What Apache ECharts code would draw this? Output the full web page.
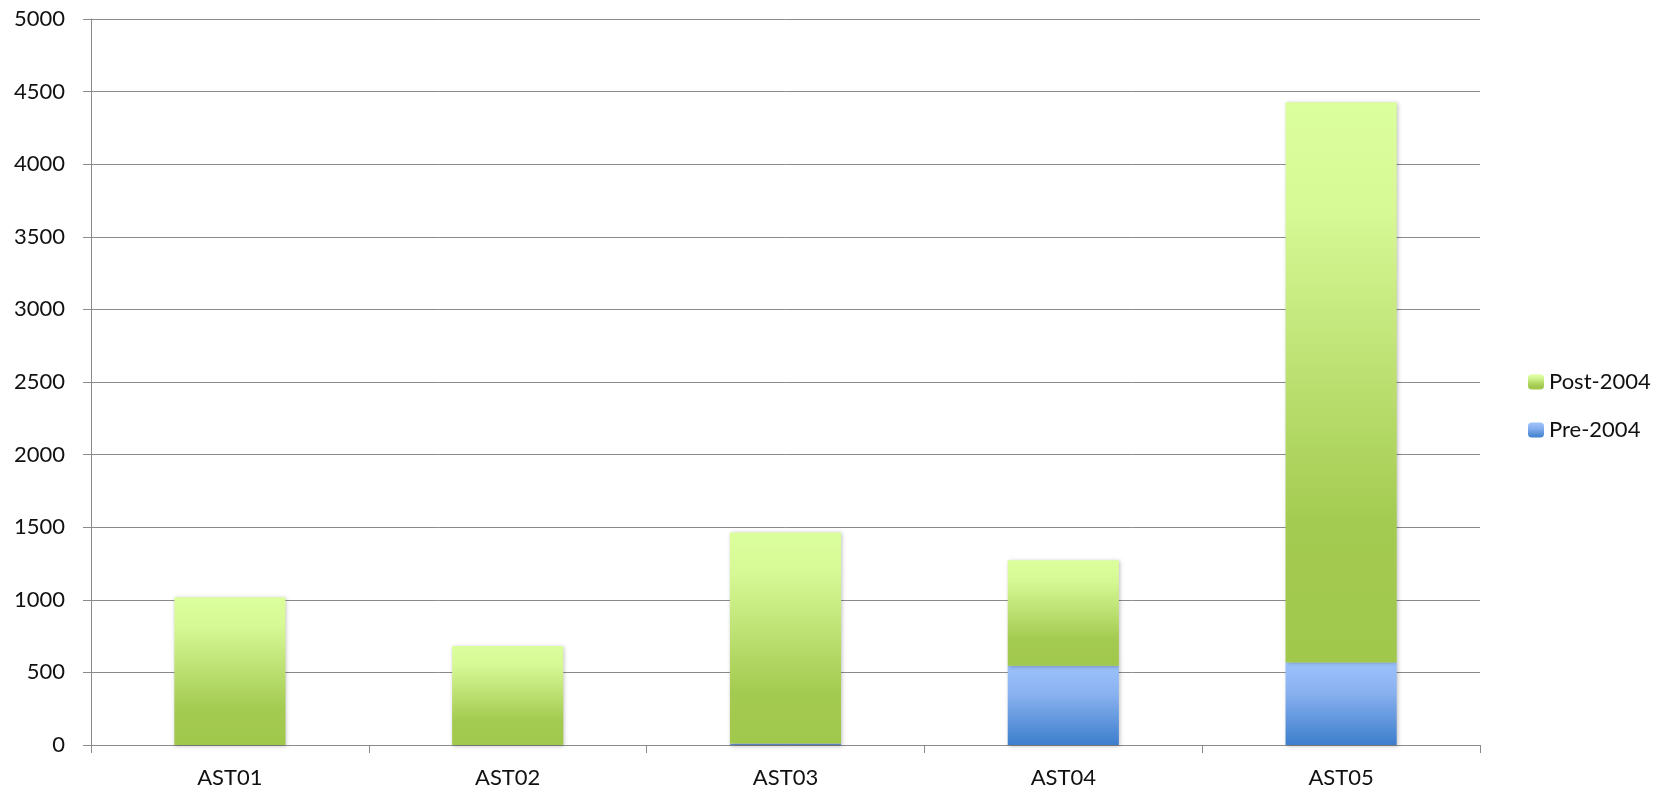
<!DOCTYPE html>
<html>
<head>
<meta charset="utf-8">
<title>AST chart</title>
<script src="https://cdn.jsdelivr.net/npm/echarts@6/dist/echarts.min.js"></script>
<style>
    html, body { margin: 0; padding: 0; background: #fff; }
    #chart { width: 1657px; height: 792px; }
</style>
</head>
<body>
<div id="chart"></div>
<script>
var categories = ["AST01", "AST02", "AST03", "AST04", "AST05"];
var pre2004 = [0, 0, 10, 546, 569];
var post2004 = [1017, 682, 1454, 727, 3858];
var yTicks = { min: 0, max: 5000, interval: 500 };

(function(window, echarts) {
    var font = "Lato, 'Open Sans', sans-serif",
        gridColor = "#8a8a8a";

    function grad(stops) {
        return new echarts.graphic.LinearGradient(0, 0, 0, 1, stops);
    }

    var green = grad([
        { offset: 0, color: "#dcff9d" },
        { offset: 0.2, color: "#d6f895" },
        { offset: 0.75, color: "#a4cb51" },
        { offset: 1, color: "#a0c84b" }
    ]);
    var blue = grad([
        { offset: 0, color: "#9cc2fc" },
        { offset: 0.35, color: "#8ab2f0" },
        { offset: 1, color: "#3d7ecd" }
    ]);

    var barShadow = {
        shadowBlur: 4,
        shadowColor: "rgba(0,0,0,0.25)",
        shadowOffsetX: 1,
        shadowOffsetY: 1
    };

    var chart = echarts.init(document.getElementById("chart"));
    var option = {
        animation: false,
        textStyle: { fontFamily: font },
        grid: {
            left: 91,
            right: 177,
            top: 19,
            bottom: 47,
            containLabel: false
        },
        legend: {
            orient: "vertical",
            left: 1523,
            top: 366,
            itemWidth: 16,
            itemHeight: 15,
            itemGap: 26,
            data: ["Post-2004", "Pre-2004"],
            textStyle: { fontFamily: font, fontSize: 22, lineHeight: 22, color: "#111" }
        },
        xAxis: {
            type: "category",
            data: categories,
            axisLine: { lineStyle: { color: gridColor, width: 1 } },
            axisTick: { show: true, length: 8, lineStyle: { color: gridColor } },
            axisLabel: { margin: 22, fontSize: 22, color: "#111", fontFamily: font }
        },
        yAxis: {
            type: "value",
            min: yTicks.min,
            max: yTicks.max,
            interval: yTicks.interval,
            axisLine: { show: true, lineStyle: { color: gridColor, width: 1 } },
            axisTick: { show: true, length: 8, lineStyle: { color: gridColor } },
            axisLabel: {
                margin: 26,
                fontSize: 22,
                color: "#111",
                fontFamily: font,
                formatter: function(v) {
                    return String(v);
                }
            },
            splitLine: { show: true, lineStyle: { color: gridColor, width: 1 } }
        },
        series: [{
            name: "Pre-2004",
            type: "bar",
            stack: "total",
            barCategoryGap: "60%",
            data: pre2004,
            itemStyle: Object.assign({ color: blue }, barShadow)
        }, {
            name: "Post-2004",
            type: "bar",
            stack: "total",
            barCategoryGap: "60%",
            data: post2004,
            itemStyle: Object.assign({ color: green }, barShadow)
        }]
    };
    chart.setOption(option);
})(window, echarts);
</script>
</body>
</html>
